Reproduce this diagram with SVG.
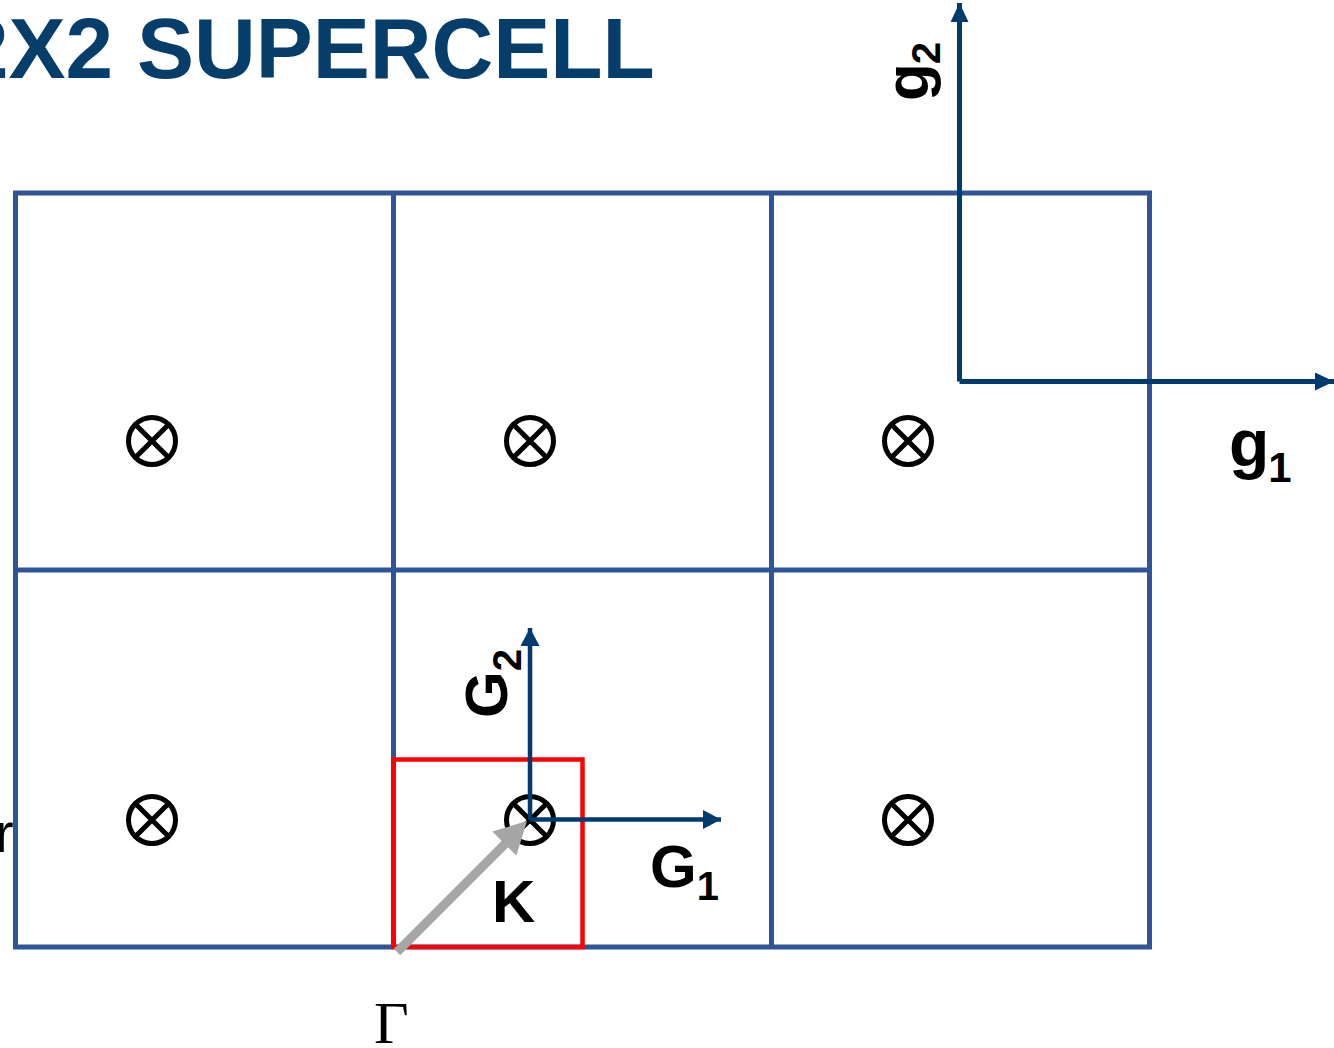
<svg xmlns="http://www.w3.org/2000/svg" width="1334" height="1048" viewBox="0 0 1334 1048">
<style>
.grid{fill:none;stroke:#2F5597;stroke-width:5}
.ax{fill:none;stroke:#003B6F;stroke-width:5}
.axs{fill:none;stroke:#003B6F;stroke-width:4.5}
.ot circle{fill:none;stroke:#000;stroke-width:5}
.ot path{stroke:#000;stroke-width:5}
.lbl{font-family:"Liberation Sans",Arial,sans-serif;font-weight:bold;fill:#000}
.title{font-family:"Liberation Sans",Arial,sans-serif;font-weight:bold;fill:#053D6B}
</style>
<defs>
<marker id="ahL" markerUnits="userSpaceOnUse" markerWidth="20" markerHeight="18" refX="19" refY="9" orient="auto">
<path d="M0,0 L19,9 L0,18 Z" fill="#003B6F"/>
</marker>
<marker id="ahS" markerUnits="userSpaceOnUse" markerWidth="19" markerHeight="19" refX="18" refY="9.5" orient="auto">
<path d="M0,0 L18,9.5 L0,19 Z" fill="#003B6F"/>
</marker>
<g id="otimes" class="ot">
<circle cx="0" cy="0" r="23.5"/>
<path d="M-16.6,-16.6 L16.6,16.6 M16.6,-16.6 L-16.6,16.6"/>
</g>
</defs>
<rect width="1334" height="1048" fill="#fff"/>
<text id="title" class="title" x="-39" y="78" font-size="85.5">2X2 SUPERCELL</text>
<g id="grid">
<rect class="grid" x="15.5" y="193" width="1134" height="754"/>
<path class="grid" d="M393.5,193 V947 M771.5,193 V947 M15.5,570 H1149.5"/>
</g>
<g id="red-cell">
<rect x="393.5" y="759.5" width="189" height="187.5" fill="none" stroke="#FF0000" stroke-width="4.5"/>
</g>
<g id="sites">
<use href="#otimes" x="152" y="441"/>
<use href="#otimes" x="530" y="441"/>
<use href="#otimes" x="908" y="441"/>
<use href="#otimes" x="152" y="820"/>
<use href="#otimes" x="530" y="820"/>
<use href="#otimes" x="908" y="820"/>
</g>
<g id="connectors">
<g id="K-arrow">
<line x1="397" y1="952" x2="506" y2="843" stroke="#A6A6A6" stroke-width="9"/>
<polygon points="527,821 516.4,855.6 492.4,831.6" fill="#A6A6A6"/>
</g>
<line id="g2-axis" class="ax" x1="959.5" y1="381.5" x2="959.5" y2="3" marker-end="url(#ahL)"/>
<line id="g1-axis" class="ax" x1="959.5" y1="381.5" x2="1334" y2="381.5" marker-end="url(#ahL)"/>
<line id="G2-axis" class="axs" x1="530" y1="819.5" x2="530" y2="628" marker-end="url(#ahS)"/>
<line id="G1-axis" class="axs" x1="530" y1="819.5" x2="721" y2="819.5" marker-end="url(#ahS)"/>
</g>
<g id="labels">
<text class="lbl" transform="translate(928,101) rotate(-90)" font-size="62">g<tspan font-size="40" dy="12" dx="-1">2</tspan></text>
<text class="lbl" x="1229" y="466" font-size="66">g<tspan font-size="42" dy="16" dx="-1">1</tspan></text>
<text class="lbl" transform="translate(507,718) rotate(-90)" font-size="60">G<tspan font-size="40" dy="14">2</tspan></text>
<text class="lbl" x="650" y="887" font-size="60">G<tspan font-size="40" dy="13">1</tspan></text>
<text class="lbl" x="492" y="922" font-size="60">K</text>
<text x="374" y="1043" font-family="'Liberation Serif','Times New Roman',serif" font-size="60" fill="#000">Γ</text>
<text x="-5" y="852" font-family="'Liberation Sans',Arial,sans-serif" font-size="56" fill="#000">r</text>
</g>
</svg>
